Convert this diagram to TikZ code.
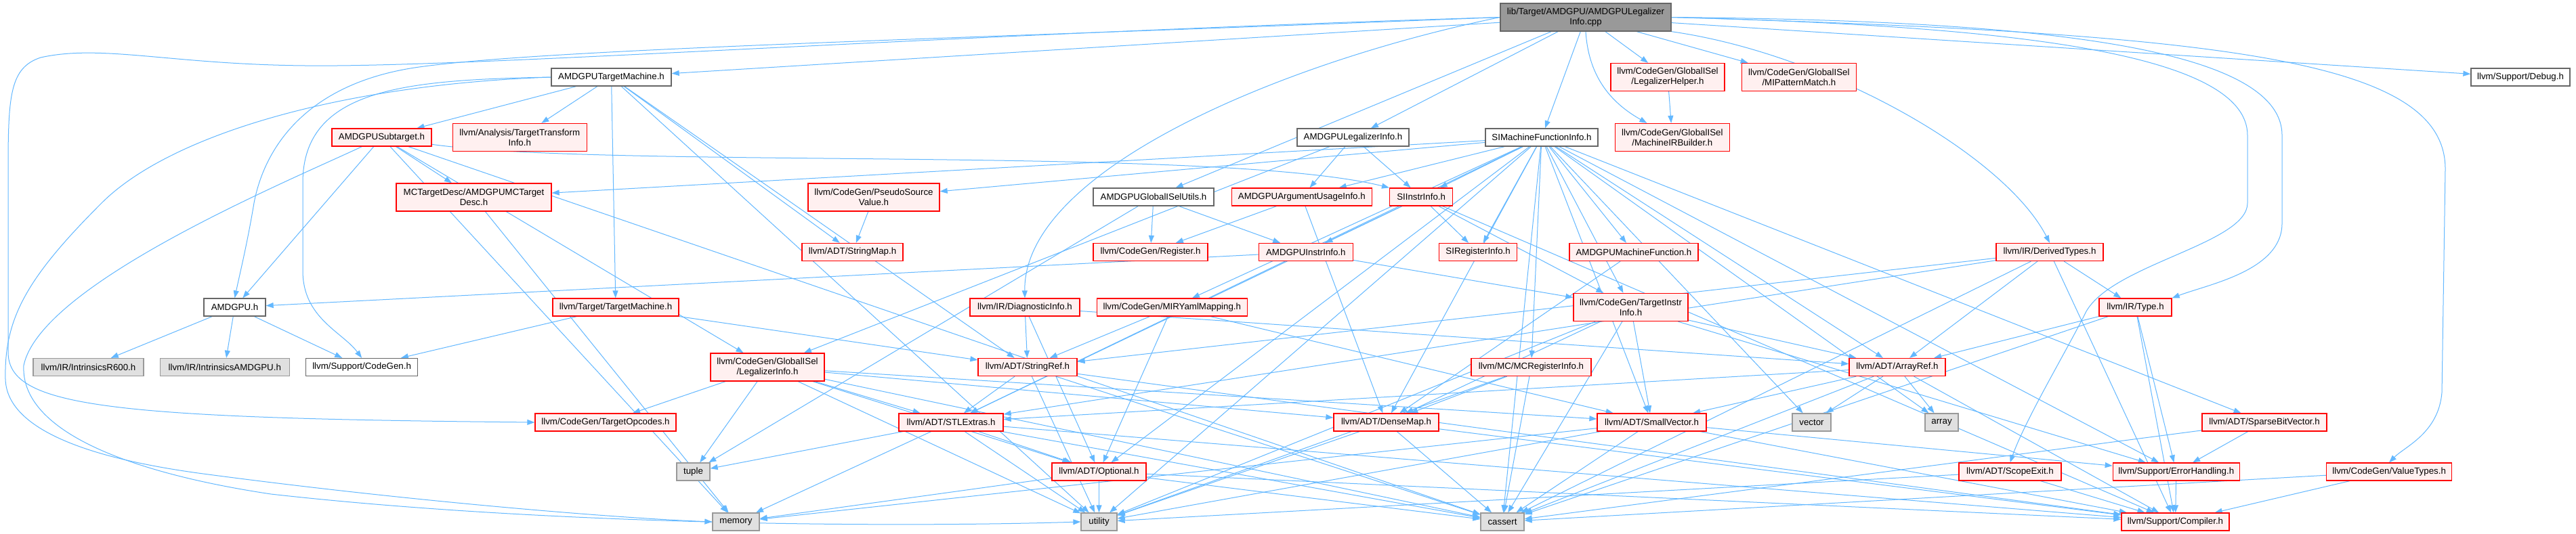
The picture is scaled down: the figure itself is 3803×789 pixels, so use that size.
\documentclass[tikz,border=0pt]{standalone}
\usepackage{fontspec}
\setmainfont{Liberation Sans}
\usetikzlibrary{positioning,arrows.meta,backgrounds}
\definecolor{deplink}{HTML}{63B8FF}
\definecolor{hdrline}{HTML}{FF0000}
\definecolor{hdrfill}{HTML}{FFF0F0}
\definecolor{docline}{HTML}{666666}
\definecolor{sysline}{HTML}{999999}
\definecolor{sysfill}{HTML}{E0E0E0}
\definecolor{srcfill}{HTML}{999999}

\begin{document}
\begin{tikzpicture}[x=1pt,y=-1pt,
  every node/.style={font=\fontsize{13.3}{15}\selectfont,inner xsep=3pt,inner ysep=2pt,
    minimum height=26pt,line width=1.3pt,align=center},
  hdr/.style={draw=hdrline,fill=hdrfill},
  doc/.style={draw=docline,fill=white},
  sys/.style={draw=sysline,fill=sysfill},
  src/.style={draw=docline,fill=srcfill},
  tall/.style={minimum height=41pt},
  dep/.style={deplink,line width=1pt,-{Triangle[length=11pt,width=8pt]}}]
\useasboundingbox (0,0) rectangle (3803,789);

\node[src,tall,minimum width=252pt] (root) at (2341,25.5) {lib/Target/AMDGPU/AMDGPULegalizer\\Info.cpp};

\node[doc,minimum width=177pt] (tm) at (902.5,114) {AMDGPUTargetMachine.h};
\node[hdr,tall,minimum width=168pt] (lhelp) at (2462,114) {llvm/CodeGen/GlobalISel\\/LegalizerHelper.h};
\node[hdr,tall,minimum width=169pt] (mipm) [right=24pt of lhelp] {llvm/CodeGen/GlobalISel\\/MIPatternMatch.h};
\node[doc,minimum width=146pt] (debug) at (3721,114) {llvm/Support/Debug.h};

\node[hdr,minimum width=147pt] (subt) at (563.5,203) {AMDGPUSubtarget.h};
\node[hdr,tall,minimum width=198pt] (tti) [right=30pt of subt] {llvm/Analysis/TargetTransform\\Info.h};
\node[doc,minimum width=165pt] (legi) at (1997.5,203) {AMDGPULegalizerInfo.h};
\node[doc,minimum width=166pt] (simfi) at (2276,203) {SIMachineFunctionInfo.h};
\node[hdr,tall,minimum width=169pt] (mirb) [right=24pt of simfi] {llvm/CodeGen/GlobalISel\\/MachineIRBuilder.h};

\node[hdr,tall,minimum width=229pt] (mcdesc) at (699.5,291.5) {MCTargetDesc/AMDGPUMCTarget\\Desc.h};
\node[hdr,tall,minimum width=194pt] (psv) at (1290,291.5) {llvm/CodeGen/PseudoSource\\Value.h};
\node[doc,minimum width=178pt] (gisu) at (1703,291) {AMDGPUGlobalISelUtils.h};
\node[hdr,minimum width=207pt] (argu) [right=25pt of gisu] {AMDGPUArgumentUsageInfo.h};
\node[hdr,minimum width=93pt] (siinstr) [right=25pt of argu] {SIInstrInfo.h};

\node[hdr,minimum width=149pt] (smap) at (1258.5,372.5) {llvm/ADT/StringMap.h};
\node[hdr,minimum width=169pt] (reg) at (1698.5,372.5) {llvm/CodeGen/Register.h};
\node[hdr,minimum width=139pt] (ainstr) [right=74pt of reg] {AMDGPUInstrInfo.h};
\node[hdr,minimum width=115pt] (sireg) [right=126pt of ainstr] {SIRegisterInfo.h};
\node[hdr,minimum width=190pt] (amf) [right=76pt of sireg] {AMDGPUMachineFunction.h};
\node[hdr,minimum width=158pt] (dt) at (3026,372.5) {llvm/IR/DerivedTypes.h};

\node[doc,minimum width=91pt] (amdgpu) at (346.5,454) {AMDGPU.h};
\node[hdr,minimum width=186pt] (tmach) at (909,454) {llvm/Target/TargetMachine.h};
\node[hdr,minimum width=162pt] (diag) at (1513,454) {llvm/IR/DiagnosticInfo.h};
\node[hdr,minimum width=222pt] (miryaml) [right=24pt of diag] {llvm/CodeGen/MIRYamlMapping.h};
\node[hdr,tall,minimum width=169pt] (tii) at (2407.5,454) {llvm/CodeGen/TargetInstr\\Info.h};
\node[hdr,minimum width=107pt] (type) at (3152.5,454) {llvm/IR/Type.h};

\node[sys,minimum width=163pt] (r600) at (130.5,542.5) {llvm/IR/IntrinsicsR600.h};
\node[sys,minimum width=191pt] (iamdgpu) [right=23pt of r600] {llvm/IR/IntrinsicsAMDGPU.h};
\node[doc,minimum width=165pt] (codegen) [right=23pt of iamdgpu] {llvm/Support/CodeGen.h};
\node[hdr,tall,minimum width=168pt] (gli) at (1133,542.5) {llvm/CodeGen/GlobalISel\\/LegalizerInfo.h};
\node[hdr,minimum width=146pt] (sref) at (1517,542.5) {llvm/ADT/StringRef.h};
\node[hdr,minimum width=177pt] (mcreg) at (2260.5,542.5) {llvm/MC/MCRegisterInfo.h};
\node[hdr,minimum width=142pt] (aref) at (2801,542.5) {llvm/ADT/ArrayRef.h};

\node[hdr,minimum width=208pt] (topc) at (894,624) {llvm/CodeGen/TargetOpcodes.h};
\node[hdr,minimum width=154pt] (stl) at (1404,624) {llvm/ADT/STLExtras.h};
\node[hdr,minimum width=155pt] (dmap) at (2046.5,624) {llvm/ADT/DenseMap.h};
\node[hdr,minimum width=161pt] (svec) at (2438.5,624) {llvm/ADT/SmallVector.h};
\node[sys,minimum width=57pt] (vector) at (2674.5,624) {vector};
\node[sys,minimum width=49pt] (array) at (2866.5,624) {array};
\node[hdr,minimum width=184pt] (sbv) at (3343,624) {llvm/ADT/SparseBitVector.h};

\node[sys,minimum width=49pt] (tuple) at (1023.5,697) {tuple};
\node[hdr,minimum width=139pt] (opt) at (1622.5,697) {llvm/ADT/Optional.h};
\node[hdr,minimum width=151pt] (scope) at (2967.5,697) {llvm/ADT/ScopeExit.h};
\node[hdr,minimum width=187pt] (errh) [right=75pt of scope] {llvm/Support/ErrorHandling.h};
\node[hdr,minimum width=185pt] (vt) [right=127pt of errh] {llvm/CodeGen/ValueTypes.h};

\node[sys,minimum width=69pt] (memory) at (1086.5,771) {memory};
\node[sys,minimum width=53pt] (utility) at (1622.5,771) {utility};
\node[sys,minimum width=64pt] (cassert) at (2218,771) {cassert};
\node[hdr,minimum width=159pt] (compiler) at (3211.5,771) {llvm/Support/Compiler.h};

\begin{scope}[on background layer]
\fill[white] (0,0) rectangle (3803,789);
\draw[dep] (root.west) .. controls (1400,50) and (700,100) .. (450,97) .. controls (250,95) and (150,65) .. (60,85) .. controls (15,100) and (12,140) .. (12,250) -- (12,520) .. controls (12,600) and (150,618) .. (topc.west);
\draw[dep] (root.west) .. controls (1400,58) and (800,72) .. (612,100) .. controls (450,125) and (390,220) .. (375,300) .. controls (365,360) and (355,400) .. (amdgpu.north);
\draw[dep] (root.west) .. controls (1900,90) and (1510,250) .. (diag.north);
\draw[dep] (root.south) .. controls (2345,110) and (2375,150) .. (mirb);
\draw[dep] (root.south east) .. controls (2700,80) and (2960,230) .. (dt.north);
\draw[dep] (root.east) .. controls (2950,30) and (3369,60) .. (3369,200) -- (3369,330) .. controls (3369,400) and (3260,420) .. (type.north east);
\draw[dep] (root.east) .. controls (2950,38) and (3318,75) .. (3318,200) -- (3318,300) .. controls (3318,360) and (3120,390) .. (3080,460) .. controls (3050,520) and (2990,620) .. (scope.north);
\draw[dep] (root.east) .. controls (3300,50) and (3610,90) .. (3610,250) -- (3605,580) .. controls (3600,640) and (3550,660) .. (vt.north);
\draw[dep] (tm.west) .. controls (600,118) and (447,130) .. (447,270) -- (447,400) .. controls (447,470) and (505,490) .. (codegen.north);
\draw[dep] (tm.west) .. controls (500,125) and (250,200) .. (150,300) .. controls (40,410) and (6,470) .. (8,560) .. controls (10,640) and (150,680) .. (300,700) .. controls (600,740) and (900,765) .. (memory.west);
\draw[dep] (subt) .. controls (420,270) and (60,420) .. (35,540) .. controls (30,640) and (200,700) .. (400,730) .. controls (800,775) and (1300,780) .. (utility.west);
\draw[dep] (subt) .. controls (900,250) and (1800,215) .. (siinstr.north west);
\draw[dep] (root) edge (tm) edge (legi) edge (simfi) edge (gisu) edge (lhelp) edge (mipm) edge (debug);
\draw[dep] (tm) edge (subt) edge (tti) edge (tmach) edge (smap) edge (sref) edge (utility);
\draw[dep] (subt) edge (amdgpu) edge (mcdesc) edge (gli) edge (memory) edge (cassert);
\draw[dep] (lhelp) edge (mirb);
\draw[dep] (legi) edge (argu) edge (siinstr) edge (gli);
\draw[dep] (simfi) edge (argu) edge (siinstr) edge (sireg) edge (amf) edge (mcdesc) edge (psv) edge (miryaml) edge (tii) edge (mcreg) edge (sbv) edge (errh) edge (array) edge (vector) edge (svec) edge (dmap) edge (stl) edge (cassert) edge (opt) edge (aref) edge (utility);
\draw[dep] (mcdesc) edge (memory);
\draw[dep] (psv) edge (smap);
\draw[dep] (gisu) edge (reg) edge (ainstr) edge (tuple);
\draw[dep] (argu) edge (reg) edge (dmap);
\draw[dep] (siinstr) edge (ainstr) edge (sireg) edge (tii) edge (stl) edge (compiler);
\draw[dep] (ainstr) edge (amdgpu) edge (tii);
\draw[dep] (amf) edge (dmap);
\draw[dep] (dt) edge (aref) edge (stl) edge (sref) edge (type) edge (compiler) edge (cassert);
\draw[dep] (amdgpu) edge (r600) edge (iamdgpu) edge (codegen);
\draw[dep] (tmach) edge (codegen) edge (sref);
\draw[dep] (diag) edge (sref) edge (opt) edge (aref);
\draw[dep] (miryaml) edge (sref) edge (opt) edge (svec);
\draw[dep] (tii) edge (aref) edge (dmap) edge (svec) edge (errh) edge (cassert) edge (utility);
\draw[dep] (type) edge (aref) edge (errh) edge (compiler) edge (cassert);
\draw[dep] (gli) edge (topc) edge (tuple) edge (stl) edge (opt) edge (dmap) edge (svec) edge (cassert) edge (utility);
\draw[dep] (sref) edge (stl) edge (utility) edge (cassert) edge (compiler);
\draw[dep] (mcreg) edge (dmap) edge (cassert) edge (utility);
\draw[dep] (aref) edge (stl) edge (svec) edge (vector) edge (array) edge (cassert) edge (compiler);
\draw[dep] (stl) edge (tuple) edge (opt) edge (memory) edge (utility) edge (cassert) edge (compiler);
\draw[dep] (dmap) edge (utility) edge (cassert) edge (compiler);
\draw[dep] (svec) edge (errh) edge (memory) edge (utility) edge (cassert) edge (compiler);
\draw[dep] (sbv) edge (errh) edge (cassert);
\draw[dep] (opt) edge (memory) edge (utility) edge (cassert) edge (compiler);
\draw[dep] (scope) edge (compiler) edge (utility);
\draw[dep] (errh) edge (compiler);
\draw[dep] (vt) edge (compiler) edge (cassert);
\end{scope}
\end{tikzpicture}
\end{document}
